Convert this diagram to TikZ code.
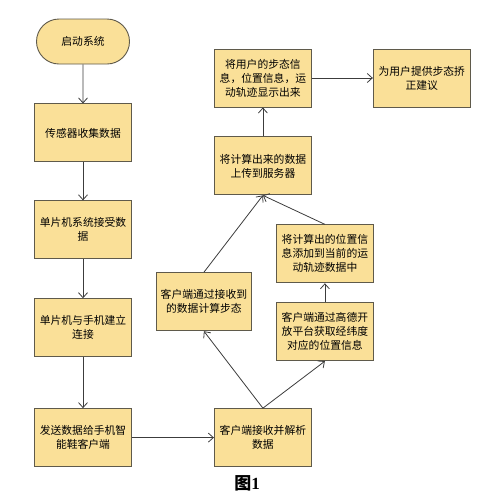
\documentclass[tikz,border=0pt]{standalone}
\usepackage{fontspec}
\setmainfont{Noto Sans CJK SC}
\newfontfamily\capnum{Liberation Serif}
\usetikzlibrary{positioning,arrows.meta,shapes.misc}
\definecolor{boxfill}{RGB}{250,224,152}
\definecolor{boxline}{RGB}{95,90,75}
\definecolor{lineclr}{RGB}{60,60,60}
\tikzset{
  box/.style    ={draw=boxline, fill=boxfill, line width=0.9pt, minimum width=97pt,
                  minimum height=58pt, align=center, inner sep=2pt,
                  font=\fontsize{10.8}{14}\selectfont},
  startbox/.style={box, rounded rectangle, minimum height=45pt},
  fl/.style     ={-{Straight Barb[length=5pt,width=9pt]}, draw=lineclr, line width=0.8pt},
}

\begin{document}
\begin{tikzpicture}[x=1pt, y=1pt]
  \useasboundingbox (0,0) rectangle (500,-499);

  % left column
  \node[startbox] (start) at (83,-41.5) {启动系统};
  \node[box, below=39pt of start] (sensor) {传感器收集数据};
  \node[box, below=38pt of sensor] (mcu) {单片机系统接受数\\据};
  \node[box, below=39pt of mcu] (link) {单片机与手机建立\\连接};
  \node[box, below=51pt of link] (send) {发送数据给手机智\\能鞋客户端};

  % client side
  \node[box, right=82pt of send] (recv) {客户端接收并解析\\数据};
  \node[box, above=77pt of recv, xshift=-59pt, minimum width=95pt] (calcgait)
        {客户端通过接收到\\的数据计算步态};
  \node[box, above=47pt of recv, xshift=62pt] (gaode)
        {客户端通过高德开\\放平台获取经纬度\\对应的位置信息};
  \node[box, above=19pt of gaode] (addpos)
        {将计算出的位置信\\息添加到当前的运\\动轨迹数据中};
  \node[box, above=29pt of addpos, xshift=-62pt] (upload) {将计算出来的数据\\上传到服务器};
  \node[box, above=29pt of upload] (show) {将用户的步态信\\息，位置信息，运\\动轨迹显示出来};
  \node[box, right=61pt of show] (advice) {为用户提供步态挢\\正建议};

  \node[font=\fontsize{17}{19}\selectfont\bfseries] (caption) at (247,-483)
        {图\capnum\bfseries 1};

  \draw[fl] (start) -- (sensor);
  \draw[fl] (sensor) -- (mcu);
  \draw[fl] (mcu) -- (link);
  \draw[fl] (link) -- (send);
  \draw[fl] (send) -- (recv);
  \draw[fl] (recv.north) -- (calcgait.south);
  \draw[fl] (recv.north) -- (gaode.south);
  \draw[fl] (gaode) -- (addpos);
  \draw[fl] (calcgait.north) -- (upload.south);
  \draw[fl] (addpos.north) -- (upload.south);
  \draw[fl] (upload) -- (show);
  \draw[fl] (show) -- (advice);
\end{tikzpicture}
\end{document}
